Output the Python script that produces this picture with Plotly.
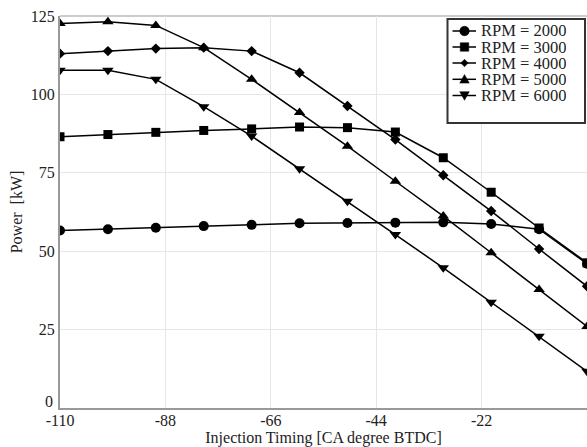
import plotly.graph_objects as go

timing = [-110, -100, -90, -80, -70, -60, -50, -40, -30, -20, -10, 0]
rpm_2000 = [56.6, 57.0, 57.5, 58.0, 58.4, 58.9, 59.0, 59.1, 59.2, 58.7, 57.0, 46.0]
rpm_3000 = [86.5, 87.2, 87.9, 88.5, 89.0, 89.6, 89.4, 88.0, 79.8, 68.8, 57.4, 46.3]
rpm_4000 = [113.0, 113.8, 114.6, 114.9, 113.8, 106.9, 96.3, 85.6, 74.2, 62.8, 50.7, 38.8]
rpm_5000 = [122.6, 123.2, 122.0, 114.9, 104.8, 94.2, 83.5, 72.3, 61.2, 49.5, 37.8, 26.0]
rpm_6000 = [107.7, 107.7, 104.8, 96.1, 86.7, 76.3, 65.9, 55.3, 44.7, 33.7, 22.9, 11.7]

names = ["RPM = 2000", "RPM = 3000", "RPM = 4000", "RPM = 5000", "RPM = 6000"]
values = [rpm_2000, rpm_3000, rpm_4000, rpm_5000, rpm_6000]
symbols = ["circle", "square", "diamond", "triangle-up", "triangle-down"]
sizes = [10, 9, 8, 10, 10]

x_ticks = [-110, -88, -66, -44, -22, 0]
y_ticks = [0, 25, 50, 75, 100, 125]

W, H = 587, 447
L, R, T, B = 60, 0, 16, 39
PW, PH = W - L - R, H - T - B


def px(xp):
    return (xp - L) / PW


def py(yp):
    return (H - B - yp) / PH


fig = go.Figure()
for name, vals, sym, size in zip(names, values, symbols, sizes):
    fig.add_trace(go.Scatter(
        x=timing, y=vals, name=name, mode="lines+markers",
        line=dict(color="black", width=1.5),
        marker=dict(symbol=sym, size=size, color="black"),
        showlegend=False,
    ))

font_family = "Liberation Serif"
text_color = "#222"

# Hand-drawn legend (box, line samples, marker glyphs, labels)
shapes = []
annotations = []
box = dict(x0=447.5, x1=585, y0=19, y1=123)
shapes.append(dict(type="rect", xref="paper", yref="paper",
                   x0=px(box["x0"]), x1=px(box["x1"]),
                   y0=py(box["y1"]), y1=py(box["y0"]),
                   fillcolor="white", line=dict(color="#333", width=2), layer="above"))
row_y = [31, 47, 63, 79.3, 95.5]
lx0, lx1, mx = 452.5, 476, 464.5


def marker_path(sym, cx, cy, s):
    if sym == "circle":
        r = s / 2
        return (f"M {px(cx - r)},{py(cy)} "
                f"C {px(cx - r)},{py(cy - r * 1.33)} {px(cx + r)},{py(cy - r * 1.33)} {px(cx + r)},{py(cy)} "
                f"C {px(cx + r)},{py(cy + r * 1.33)} {px(cx - r)},{py(cy + r * 1.33)} {px(cx - r)},{py(cy)} Z")
    if sym == "square":
        h = s / 2
        return (f"M {px(cx - h)},{py(cy - h)} L {px(cx + h)},{py(cy - h)} "
                f"L {px(cx + h)},{py(cy + h)} L {px(cx - h)},{py(cy + h)} Z")
    if sym == "diamond":
        h = s / 2
        return (f"M {px(cx)},{py(cy - h)} L {px(cx + h)},{py(cy)} "
                f"L {px(cx)},{py(cy + h)} L {px(cx - h)},{py(cy)} Z")
    if sym == "triangle-up":
        h = s / 2
        return (f"M {px(cx)},{py(cy - h)} L {px(cx + h)},{py(cy + h * 0.8)} "
                f"L {px(cx - h)},{py(cy + h * 0.8)} Z")
    h = s / 2
    return (f"M {px(cx)},{py(cy + h)} L {px(cx + h)},{py(cy - h * 0.8)} "
            f"L {px(cx - h)},{py(cy - h * 0.8)} Z")


for name, sym, size, ry in zip(names, symbols, sizes, row_y):
    shapes.append(dict(type="line", xref="paper", yref="paper",
                       x0=px(lx0), x1=px(lx1), y0=py(ry), y1=py(ry),
                       line=dict(color="black", width=1.5), layer="above"))
    shapes.append(dict(type="path", xref="paper", yref="paper",
                       path=marker_path(sym, mx, ry, size - 0.5),
                       fillcolor="black", line=dict(color="black", width=0.5), layer="above"))
    annotations.append(dict(xref="paper", yref="paper", x=px(479.5), y=py(ry),
                            xanchor="left", yanchor="middle", showarrow=False,
                            height=15, borderpad=0, valign="middle",
                            text=name, font=dict(family=font_family, size=16.5, color=text_color)))

# y-axis "0" label, nudged above the corner as in the source figure
annotations.append(dict(xref="paper", yref="paper", x=px(54), y=py(400.5),
                        xanchor="right", yanchor="middle", showarrow=False,
                        height=14, borderpad=0,
                        text=str(y_ticks[0]), font=dict(family=font_family, size=16, color=text_color)))

shapes.append(dict(type="line", xref="paper", yref="paper", x0=0, x1=1, y0=1, y1=1,
                   line=dict(color="#bbb", width=1.5), layer="below"))

fig.update_layout(
    width=W, height=H,
    margin=dict(l=L, r=R, t=T, b=B),
    paper_bgcolor="white", plot_bgcolor="white",
    font=dict(family=font_family, size=16, color=text_color),
    showlegend=False,
    xaxis=dict(
        range=[-110, 0], tickvals=x_ticks, ticktext=[str(v) for v in x_ticks],
        showgrid=True, gridcolor="#e6e6e6", gridwidth=1,
        showline=True, linecolor="#999", linewidth=2, mirror=False,
        zeroline=False, ticks="", automargin=False, ticklabelstandoff=-3,
        title=dict(text="Injection Timing [CA degree BTDC]", standoff=1,
                   font=dict(family=font_family, size=16)),
        tickfont=dict(family=font_family, size=16),
    ),
    yaxis=dict(
        range=[0, 125], tickvals=y_ticks,
        ticktext=[""] + [str(v) for v in y_ticks[1:]],
        showgrid=True, gridcolor="#e6e6e6", gridwidth=1,
        showline=True, linecolor="#999", linewidth=2, mirror=False,
        zeroline=False, ticks="", automargin=False,
        title=dict(text="Power  [kW]", standoff=4,
                   font=dict(family=font_family, size=16)),
        tickfont=dict(family=font_family, size=16),
    ),
    shapes=shapes,
    annotations=annotations,
)

fig.write_html(
    "out.html",
    config={"displayModeBar": False},
    post_script="document.body.style.margin='0';document.body.style.overflow='hidden';",
)
